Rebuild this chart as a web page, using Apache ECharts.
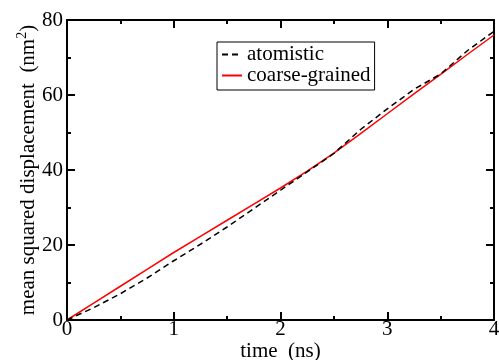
<!DOCTYPE html>
<html>
<head>
<meta charset="utf-8">
<script src="https://cdn.jsdelivr.net/npm/echarts@6/dist/echarts.min.js"></script>
<style>html,body{margin:0;padding:0;background:#fff;}#c{width:499px;height:360px;}</style>
</head>
<body>
<div id="c"></div>
<script>
const seriesNames = ['atomistic', 'coarse-grained'];
const atomTime = [0,0.25,0.5,0.75,1,1.25,1.5,1.75,2,2.25,2.5,2.75,3,3.25,3.5,3.75,4];
const atomMSD  = [0,3.3,7.0,11.2,15.8,20.2,24.8,29.7,34.6,39.5,44.4,50.8,56.3,61.5,65.6,71.8,77.0];
const cgTime = [0,0.25,0.5,0.75,1,1.25,1.5,1.75,2,2.25,2.5,2.75,3,3.25,3.5,3.75,4];
const cgMSD  = [0,4.5,9.0,13.5,18.0,22.3,26.6,30.9,35.2,39.7,44.5,49.7,55.0,60.3,65.5,70.8,76.0];
const xTicks = [0,1,2,3,4];
const yTicks = [0,20,40,60,80];

const FONT = 'Liberation Serif';
const chart = echarts.init(document.getElementById('c'), null, {renderer:'canvas'});
const axisCommon = {
  axisLine:{show:true, onZero:false, lineStyle:{color:'#000', width:2}},
  axisTick:{show:true, inside:true, length:8, lineStyle:{color:'#000', width:2}},
  minorTick:{show:true, splitNumber:2, length:4, lineStyle:{color:'#000', width:2}},
  splitLine:{show:false},
  minorSplitLine:{show:false}
};
chart.setOption({
  animation:false,
  backgroundColor:'#fff',
  grid:{left:67, right:5, top:20, bottom:40, containLabel:false, outerBoundsMode:'none'},
  legend:{
    left:217, top:42, width:161, height:46,
    orient:'vertical',
    itemWidth:20, itemHeight:10, itemGap:0,
    padding:[2,4,4,4],
    borderColor:'#000', borderWidth:1, backgroundColor:'#fff',
    itemStyle:{opacity:0},
    textStyle:{fontFamily:FONT, fontSize:21, color:'#000', lineHeight:20},
    data:seriesNames
  },
  xAxis:[
    Object.assign({type:'value', min:xTicks[0], max:xTicks[xTicks.length-1], interval:1, position:'bottom',
      name:'time  (ns)', nameLocation:'middle', nameGap:21, nameMoveOverlap:false,
      nameTextStyle:{fontFamily:FONT, fontSize:21, color:'#000', verticalAlign:'top'},
      axisLabel:{fontFamily:FONT, fontSize:21, color:'#000', margin:-1}}, axisCommon),
    Object.assign({type:'value', min:xTicks[0], max:xTicks[xTicks.length-1], interval:1, position:'top',
      axisLabel:{show:false}}, axisCommon)
  ],
  yAxis:[
    Object.assign({type:'value', min:yTicks[0], max:yTicks[yTicks.length-1], interval:20, position:'left',
      name:'mean squared displacement  (nm{sup|2})', nameLocation:'middle', nameGap:26, nameMoveOverlap:false,
      nameTextStyle:{fontFamily:FONT, fontSize:21, color:'#000',
        rich:{sup:{fontFamily:FONT, fontSize:14, color:'#000', padding:[0,0,12,0]}}},
      axisLabel:{fontFamily:FONT, fontSize:21, color:'#000', margin:4}}, axisCommon),
    Object.assign({type:'value', min:yTicks[0], max:yTicks[yTicks.length-1], interval:20, position:'right',
      axisLabel:{show:false}}, axisCommon)
  ],
  series:[
    {name:seriesNames[0], type:'line', xAxisIndex:0, yAxisIndex:0, symbol:'none', showSymbol:false,
     data:atomTime.map((t,i)=>[t, atomMSD[i]]),
     lineStyle:{color:'#000', width:1.5, type:[6,4]}, itemStyle:{color:'#000'}, z:3},
    {name:seriesNames[1], type:'line', xAxisIndex:0, yAxisIndex:0, symbol:'none', showSymbol:false,
     data:cgTime.map((t,i)=>[t, cgMSD[i]]),
     lineStyle:{color:'#ff0000', width:1.5}, itemStyle:{color:'#ff0000'}, z:2}
  ]
});
</script>
</body>
</html>
